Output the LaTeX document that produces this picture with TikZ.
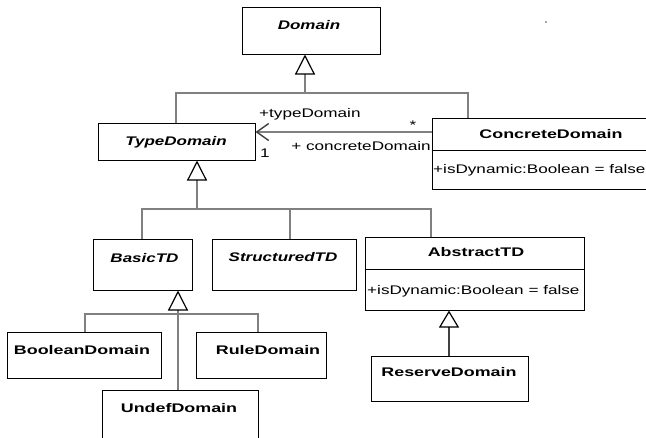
\documentclass[tikz,border=0pt]{standalone}
\usepackage{fontspec}
\setmainfont{Liberation Sans}
\newfontfamily\umlreg{Liberation Sans}[FakeStretch=1.37]
\newfontfamily\umlbold{Liberation Sans}[FakeStretch=1.43]
\newfontfamily\umlabs{Liberation Sans}[FakeStretch=1.36]
\usetikzlibrary{arrows.meta}
\definecolor{linkgray}{RGB}{128,128,128}
\definecolor{darklink}{RGB}{64,64,64}
\tikzset{
  classbox/.style={draw=black, line width=1pt, fill=white, inner sep=0pt},
  classname/.style={font=\umlbold\bfseries\fontsize{12.5}{14}\selectfont, inner sep=0pt},
  absname/.style={font=\umlabs\bfseries\itshape\fontsize{12.5}{14}\selectfont, inner sep=0pt},
  attr/.style={font=\umlreg\fontsize{12.5}{14}\selectfont, inner sep=0pt, anchor=west},
  rolelabel/.style={font=\umlreg\fontsize{12.5}{14}\selectfont, inner sep=0pt},
  genline/.style={draw=linkgray, line width=2.6pt},
  gen/.style={genline, -{Triangle[open, length=20pt, width=20pt, color=black, line width=1.2pt]}},
  gendark/.style={draw=darklink, line width=2.6pt, -{Triangle[open, length=17pt, width=20pt, color=black, line width=1.2pt]}},
  assoc/.style={draw=linkgray, line width=2pt, -{Straight Barb[length=12pt, width=17pt, color=darklink, line width=1.4pt]}}
}
\begin{document}
\begin{tikzpicture}[x=1pt, y=-1pt]
\useasboundingbox (0,0) rectangle (646,437);
\begin{scope}
\clip (0,0) rectangle (646,437);

% class boxes
\node[classbox, minimum width=138pt, minimum height=47pt] (domain) at (311,30.5) {};
\node[classbox, minimum width=157pt, minimum height=37pt] (typedomain) at (176.5,141.5) {};
\node[classbox, minimum width=239pt, minimum height=71pt] (concrete) at (551.5,153.5) {};
\node[classbox, minimum width=99pt, minimum height=51pt] (basictd) at (142.5,264.5) {};
\node[classbox, minimum width=144pt, minimum height=51pt] (structtd) at (284,264.5) {};
\node[classbox, minimum width=219pt, minimum height=73pt] (abstracttd) at (474.5,273.5) {};
\node[classbox, minimum width=154pt, minimum height=46pt] (booldom) at (84,355) {};
\node[classbox, minimum width=130pt, minimum height=46pt] (ruledom) at (261,355) {};
\node[classbox, minimum width=156pt, minimum height=60pt] (undefdom) at (180,420) {};
\node[classbox, minimum width=157pt, minimum height=45pt] (reservedom) at (449.5,378.5) {};

% compartment dividers
\coordinate (cdiv) at (0,150);
\coordinate (adiv) at (0,269);
\draw[line width=1pt] (concrete.west |- cdiv) -- (concrete.east |- cdiv);
\draw[line width=1pt] (abstracttd.west |- adiv) -- (abstracttd.east |- adiv);

% class names and attributes
\node[absname] (domainname) at (309,25) {Domain};
\node[absname] (typedomainname) at (176,142) {TypeDomain};
\node[classname] (concretename) at (551,134) {ConcreteDomain};
\node[attr] (concreteattr) at (433,170) {+isDynamic:Boolean = false};
\node[absname] (basicname) at (144.5,258) {BasicTD};
\node[absname] (structname) at (283,257) {StructuredTD};
\node[classname] (abstractname) at (476,252) {AbstractTD};
\node[attr] (abstractattr) at (367,291) {+isDynamic:Boolean = false};
\node[classname] (boolname) at (82,350) {BooleanDomain};
\node[classname] (rulename) at (268,350) {RuleDomain};
\node[classname] (undefname) at (179,408) {UndefDomain};
\node[classname] (reservename) at (449,372) {ReserveDomain};

% generalization: TypeDomain, ConcreteDomain -> Domain
\coordinate (d0) at (305,93);
\coordinate (d1) at (176,93);
\coordinate (d2) at (468,93);
\draw[genline] (typedomain.north -| d1) -- (d1) -- (d2) -- (concrete.north -| d2);
\draw[gen] (d0) -- (domain.south -| d0);

% generalization: BasicTD, StructuredTD, AbstractTD -> TypeDomain
\coordinate (t0) at (197,209);
\coordinate (t1) at (142,209);
\coordinate (t2) at (290,209);
\coordinate (t3) at (431,209);
\draw[genline] (basictd.north -| t1) -- (t1) -- (t3) -- (abstracttd.north -| t3);
\draw[genline] (t2) -- (structtd.north -| t2);
\draw[gen] (t0) -- (typedomain.south -| t0);

% generalization: BooleanDomain, RuleDomain, UndefDomain -> BasicTD
\coordinate (b0) at (178,314);
\coordinate (b1) at (85,314);
\coordinate (b2) at (258,314);
\draw[genline] (booldom.north -| b1) -- (b1) -- (b2) -- (ruledom.north -| b2);
\draw[genline] (undefdom.north -| b0) -- (b0);
\draw[gen] (b0) -- (basictd.south -| b0);

% generalization: ReserveDomain -> AbstractTD
\coordinate (r0) at (449,0);
\draw[gendark] (reservedom.north -| r0) -- (abstracttd.south -| r0);

% association ConcreteDomain -> TypeDomain
\coordinate (a0) at (0,132);
\draw[assoc] (concrete.west |- a0) -- (typedomain.east |- a0);
\node[rolelabel, anchor=west] (roletype) at (259,114) {+typeDomain};
\node[rolelabel] (multone) at (265,153) {1};
\node[rolelabel] (multmany) at (413,125) {*};
\node[rolelabel, anchor=east] (roleconcrete) at (431,146) {+ concreteDomain};

% stray mark near the top
\fill[black!70] (546,22) circle (0.8pt);
\end{scope}
\end{tikzpicture}
\end{document}
